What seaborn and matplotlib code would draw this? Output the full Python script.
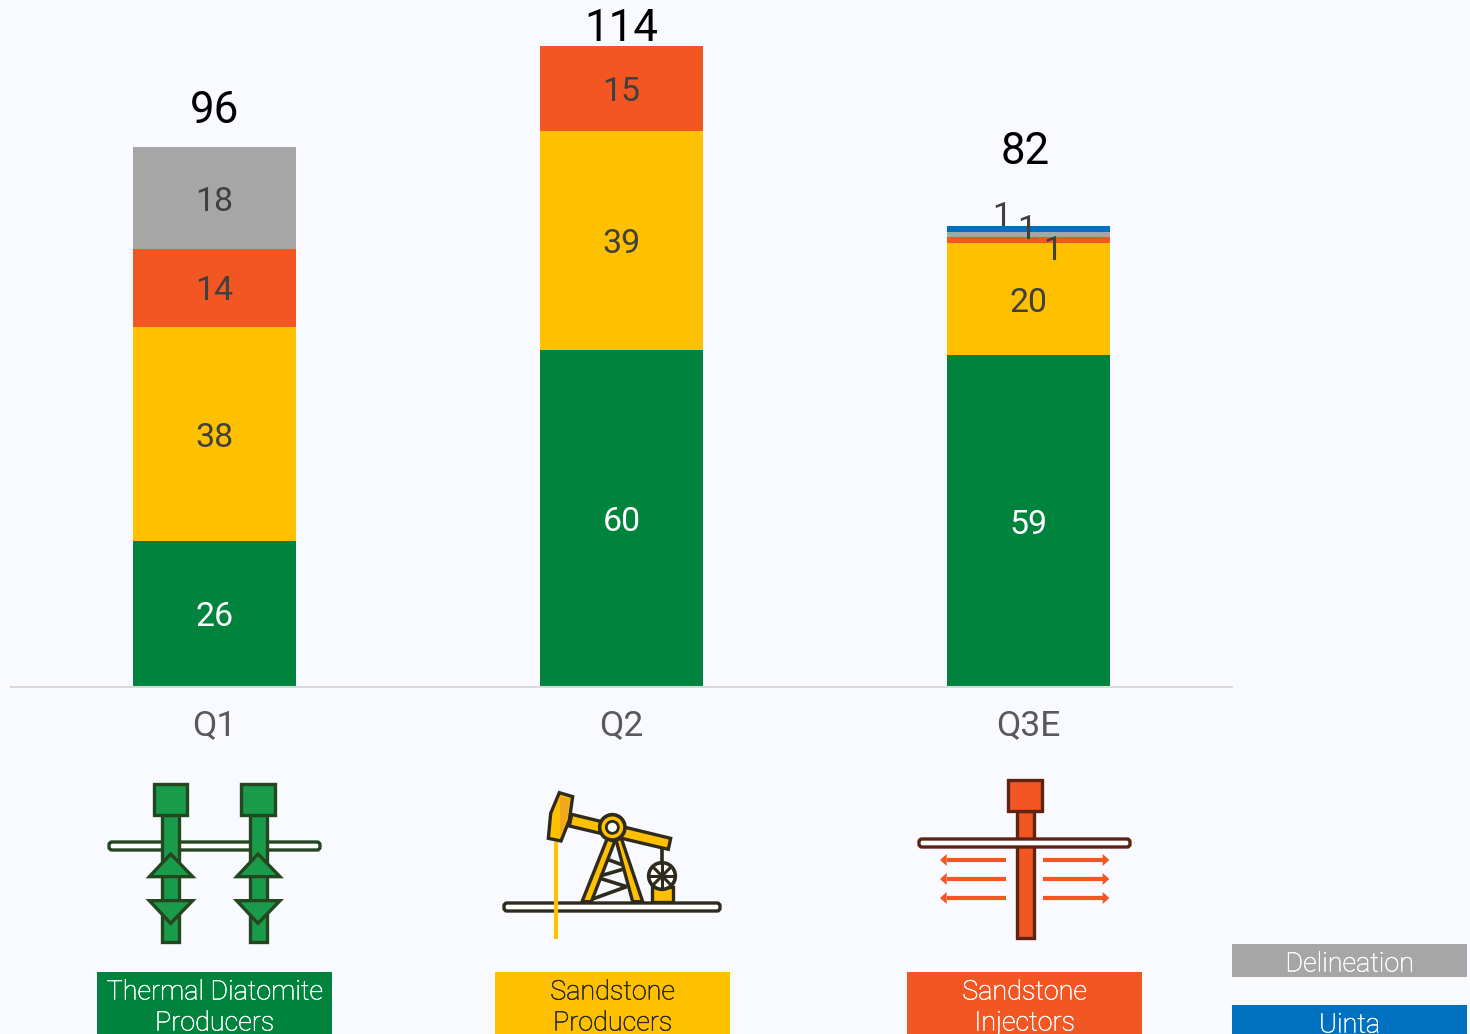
import seaborn as sns
import matplotlib.pyplot as plt
import matplotlib.patheffects as pe
from matplotlib.patches import Polygon, Rectangle, Circle, FancyBboxPatch
import pandas as pd

quarters = ["Q1", "Q2", "Q3E"]
thermal = [26, 60, 59]
sandstone_prod = [38, 39, 20]
sandstone_inj = [14, 15, 1]
delineation = [18, 0, 1]
uinta = [0, 0, 1]
totals = [96, 114, 82]

GREEN = "#00843D"
YELLOW = "#FFC000"
ORANGE = "#F25623"
GREY = "#A6A6A6"
BLUE = "#0070C0"
BG = "#F8FAFF"

series = [
    ("Thermal Diatomite Producers", thermal, GREEN, "white"),
    ("Sandstone Producers", sandstone_prod, YELLOW, "#404040"),
    ("Sandstone Injectors", sandstone_inj, ORANGE, "#404040"),
    ("Delineation", delineation, GREY, "#404040"),
    ("Uinta", uinta, BLUE, "#404040"),
]

sns.set_theme(style="white")
plt.rcParams['font.family'] = ['Roboto', 'DejaVu Sans']

W, H = 1470, 1034
fig = plt.figure(figsize=(W / 100, H / 100), dpi=100, facecolor=BG)
ax = fig.add_axes([11 / W, (H - 687) / H, 1221 / W, 687 / H], facecolor="none")

df = pd.DataFrame({"quarter": quarters})
bottom = [0, 0, 0]
for name, vals, col, txt in series:
    df[name] = vals
    sns.barplot(data=df, x="quarter", y=name, order=quarters, color=col, saturation=1,
                width=0.4, bottom=bottom, errorbar=None, linewidth=0, ax=ax)
    for i, v in enumerate(vals):
        if v == 0:
            continue
        # the three tiny Q3E labels are pushed apart in the original
        dx, dy = 0, 0
        if v == 1:
            dx, dy = {"Sandstone Injectors": (24, -7), "Delineation": (-2, 8), "Uinta": (-27, 15)}[name]
        ax.annotate(str(v), (i, bottom[i] + v / 2), xytext=(dx * 0.72, dy * 0.72), textcoords="offset points",
                    ha="center", va="center_baseline", fontsize=24.4, color=txt)
    bottom = [b + v for b, v in zip(bottom, vals)]

total_offsets = [(0, 41), (0, 22), (-3, 79)]
for i, t in enumerate(totals):
    ax.annotate(str(t), (i, t), xytext=(total_offsets[i][0] * 0.72, total_offsets[i][1] * 0.72),
                textcoords="offset points", ha="center", va="center_baseline", fontsize=31.5, color="black")

ax.set_xlim(-0.5, 2.5)
ax.set_ylim(0, 687 / 5.62)
ax.set_xlabel("")
ax.set_ylabel("")
ax.set_yticks([])
ax.tick_params(axis="x", length=0, pad=16, labelsize=25.5, labelcolor="#595959")
for s in ["top", "left", "right"]:
    ax.spines[s].set_visible(False)
ax.spines["bottom"].set_color("#D9D9D9")
ax.spines["bottom"].set_linewidth(1.5)

# overlay in pixel coordinates for the icons and label boxes
ov = fig.add_axes([0, 0, 1, 1], facecolor="none")
ov.set_xlim(0, W)
ov.set_ylim(H, 0)
ov.axis("off")


def poly(pts, ox, oy, fc, ec, lw=2.4):
    ov.add_patch(Polygon([(ox + x / 3, oy + y / 3) for x, y in pts], closed=True, fc=fc, ec=ec, lw=lw, joinstyle="miter"))


def rect(x0, y0, x1, y1, ox, oy, fc, ec, lw=2.4):
    poly([(x0, y0), (x1, y0), (x1, y1), (x0, y1)], ox, oy, fc, ec, lw)


def line(pts, ox, oy, col, lw):
    ov.plot([ox + x / 3 for x, y in pts], [oy + y / 3 for x, y in pts], color=col, lw=lw, solid_capstyle="butt")


def box_text(x, y, s, col):
    # light weight looks too faint without a hair of stroke
    ov.text(x, y, s, ha="center", va="center_baseline", fontsize=19.4, fontweight="light", color=col,
            path_effects=[pe.withStroke(linewidth=0.35, foreground=col)])


# thermal wells
DK_G = "#24471F"
FILL_G = "#1A9B4B"
ox, oy = 80, 760
ov.add_patch(FancyBboxPatch((109, 842), 211, 8, boxstyle="round,pad=0,rounding_size=3", fc="white", ec=DK_G, lw=2.4))
for shift in [0, 262]:
    rect(247 + shift, 165, 298 + shift, 545, ox, oy, FILL_G, DK_G)
    rect(222 + shift, 72, 322 + shift, 165, ox, oy, FILL_G, DK_G)
    poly([(272 + shift, 282), (208 + shift, 350), (338 + shift, 350)], ox, oy, FILL_G, DK_G)
    poly([(208 + shift, 422), (338 + shift, 422), (272 + shift, 490)], ox, oy, FILL_G, DK_G)

# pumpjack
DK_Y = "#2E2A1C"
SHADE = "#F0A81E"
ox, oy = 480, 770
line([(228, 215), (228, 508)], ox, oy, YELLOW, 3)
for a, b in [((335, 388), (440, 350)), ((440, 350), (360, 325)), ((360, 318), (428, 298)), ((428, 285), (382, 268))]:
    line([a, b], ox, oy, DK_Y, 2.6)
poly([(382, 205), (404, 215), (334, 395), (306, 395)], ox, oy, YELLOW, DK_Y)
poly([(408, 210), (424, 205), (488, 395), (458, 395)], ox, oy, YELLOW, DK_Y)
rect(516, 350, 578, 396, ox, oy, YELLOW, DK_Y)
line([(546, 235), (546, 285)], ox, oy, DK_Y, 2.6)
ov.add_patch(Circle((ox + 546 / 3, oy + 318 / 3), 40 / 3, fc="white", ec=DK_Y, lw=2.6))
for a, b in [((546, 278), (546, 358)), ((506, 318), (586, 318)), ((518, 290), (574, 346)), ((574, 290), (518, 346))]:
    line([a, b], ox, oy, DK_Y, 2.2)
poly([(275, 133), (572, 205), (565, 238), (268, 168)], ox, oy, YELLOW, DK_Y)
poly([(238, 68), (278, 80), (268, 150), (243, 213), (205, 205), (212, 130)], ox, oy, YELLOW, DK_Y)
poly([(240, 78), (270, 86), (262, 148), (240, 200)], ox, oy, SHADE, "none", 0)
ov.add_patch(Circle((ox + 397 / 3, oy + 172 / 3), 38 / 3, fc=YELLOW, ec=DK_Y, lw=2.6))
ov.add_patch(Circle((ox + 397 / 3, oy + 172 / 3), 18 / 3, fc="white", ec=DK_Y, lw=2.0))
ov.add_patch(FancyBboxPatch((504, 903), 216, 8, boxstyle="round,pad=0,rounding_size=3", fc="white", ec=DK_Y, lw=2.4))

# injector
DK_O = "#5E2412"
ox, oy = 900, 770
rect(350, 122, 402, 505, ox, oy, ORANGE, DK_O)
rect(325, 30, 425, 122, ox, oy, ORANGE, DK_O)
ov.add_patch(FancyBboxPatch((919, 839), 211, 8, boxstyle="round,pad=0,rounding_size=3", fc="white", ec=DK_O, lw=2.4))
for y in [270, 327, 384]:
    line([(140, y), (318, y)], ox, oy, ORANGE, 3)
    line([(430, y), (610, y)], ox, oy, ORANGE, 3)
    poly([(120, y), (140, y - 18), (140, y + 18)], ox, oy, ORANGE, "none", 0)
    poly([(628, y), (608, y - 18), (608, y + 18)], ox, oy, ORANGE, "none", 0)

# label boxes under the icons, clipped by the bottom of the picture
boxes = [
    (97, 972, 235, 62, GREEN, "white", "Thermal Diatomite\nProducers"),
    (495, 972, 235, 62, YELLOW, "#262626", "Sandstone\nProducers"),
    (907, 972, 235, 62, ORANGE, "white", "Sandstone\nInjectors"),
]
for x, y, w, h, col, tc, label in boxes:
    ov.add_patch(Rectangle((x, y), w, h, fc=col, ec="none"))
    top, bot = label.split("\n")
    box_text(x + w / 2, y + 17, top, tc)
    box_text(x + w / 2, y + 48, bot, tc)

ov.add_patch(Rectangle((1232, 944), 235, 33, fc=GREY, ec="none"))
box_text(1349.5, 961, "Delineation", "white")
ov.add_patch(Rectangle((1232, 1005), 235, 29, fc=BLUE, ec="none"))
box_text(1349.5, 1022, "Uinta", "white")

fig.savefig("out.png", dpi=100, facecolor=BG)
